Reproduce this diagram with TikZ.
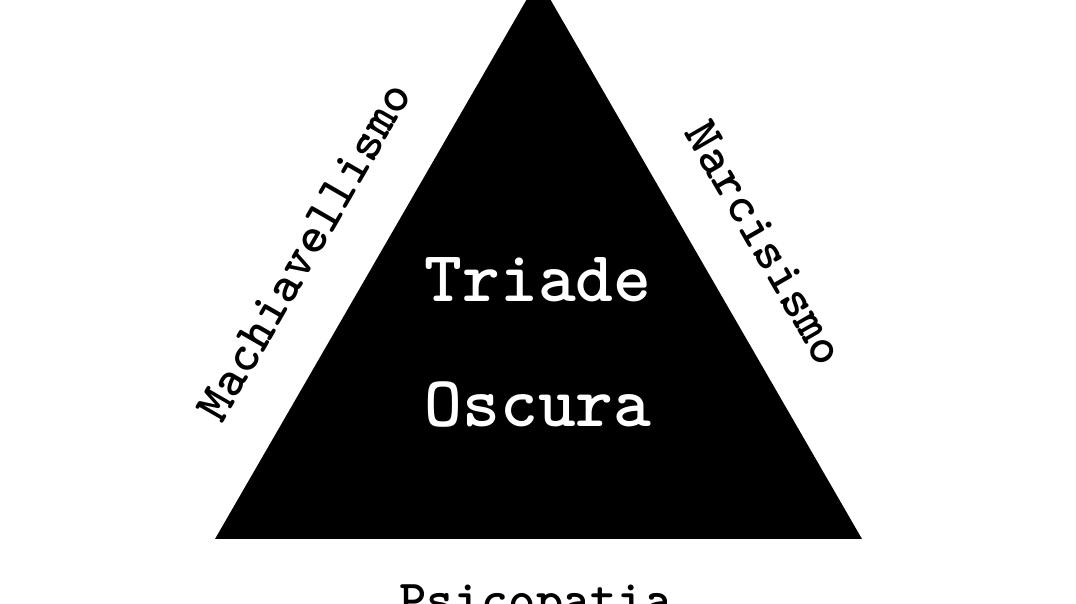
\documentclass[tikz,border=0pt]{standalone}
\usepackage{xcolor}
\usepackage{tikz}
\usetikzlibrary{positioning}

\begin{document}
\begin{tikzpicture}[x=1pt,y=1pt,semithick]
		\tikzstyle{side}=[font=\fontsize{52}{60}\selectfont\ttfamily\bfseries,text=black,inner sep=0pt]
		\tikzstyle{core}=[font=\fontsize{72}{80}\selectfont\ttfamily\bfseries,text=white,inner sep=0pt]
		
		\useasboundingbox (0,0) rectangle (1076,604);
		
		\coordinate (top)   at (538.5,625);
		\coordinate (left)  at (215,65);
		\coordinate (right) at (862,65);
		
		\fill[black] (left) -- (right) -- (top) -- cycle;
		
		\node[core] (T) [anchor=base] at (538,302) {Triade};
		\node[core] (O) [anchor=base] at (538,177) {Oscura};
		
		\node[side] (M) [rotate=60]  at (304,353) {Machiavellismo};
		\node[side] (N) [rotate=-60] at (765,361) {Narcisismo};
		\node[side] (P) [anchor=base] at (536,-13) {Psicopatia};
		
		\end{tikzpicture}
\end{document}
